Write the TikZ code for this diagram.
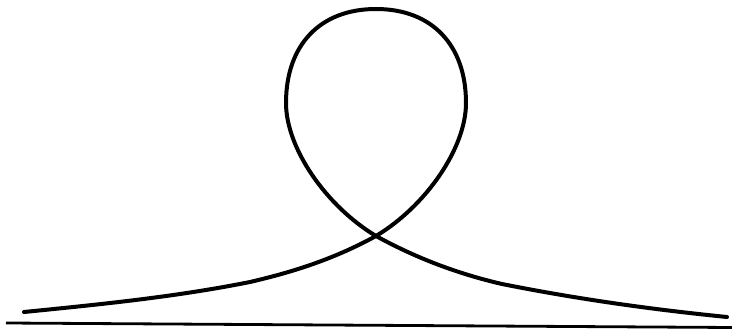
\documentclass[tikz,border=0pt]{standalone}
\begin{document}
\begin{tikzpicture}[x=1pt,y=-1pt,
  curve/.style={line width=4pt,line cap=round,line join=round},
  ground/.style={line width=2.8pt}]
\useasboundingbox (0,0) rectangle (732,331);
\coordinate (s) at (24,312);
\coordinate (m) at (250,282);
\coordinate (c) at (376,236);
\coordinate (r) at (466,103);
\coordinate (t) at (376,9);
\coordinate (l) at (286,103);
\coordinate (n) at (502,284);
\coordinate (e) at (727,317);
\draw[curve] (s) .. controls (99,304.5) and (175,297) .. (m)
  .. controls (292,272.3) and (334,259.1) .. (c)
  .. controls (426,206) and (466,148) .. (r)
  .. controls (466,45) and (432,9) .. (t)
  .. controls (320,9) and (286,45) .. (l)
  .. controls (286,148) and (326,206) .. (c)
  .. controls (418,259.1) and (460,274.3) .. (n)
  .. controls (577,299) and (652,309.5) .. (e);
\coordinate (gl) at (6,323);
\coordinate (gr) at (732,327.5);
\draw[ground] (gl) -- (gr);
\end{tikzpicture}
\end{document}
